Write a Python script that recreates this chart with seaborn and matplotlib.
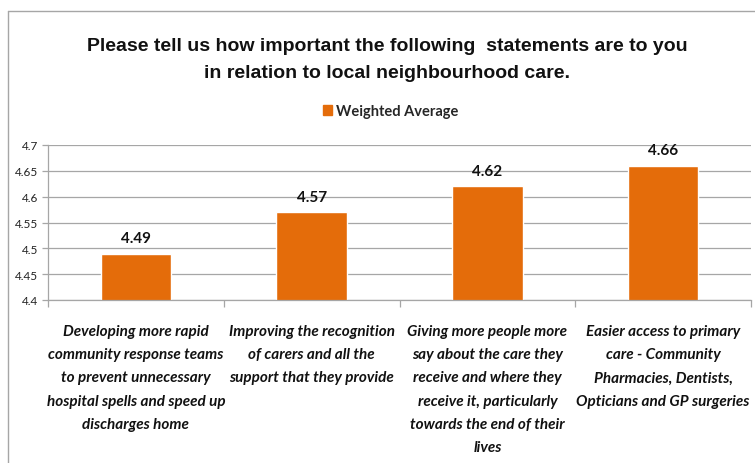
import matplotlib
matplotlib.use("Agg")
import matplotlib.pyplot as plt
from matplotlib.lines import Line2D
from matplotlib.patches import Patch
import seaborn as sns
import pandas as pd

# Survey statements and their weighted-average importance scores
categories = [
    "Developing more rapid\ncommunity response teams\nto prevent unnecessary\nhospital spells and speed up\ndischarges home",
    "Improving the recognition\nof carers and all the\nsupport that they provide",
    "Giving more people more\nsay about the care they\nreceive and where they\nreceive it, particularly\ntowards the end of their\nlives",
    "Easier access to primary\ncare - Community\nPharmacies, Dentists,\nOpticians and GP surgeries",
]
values = [4.49, 4.57, 4.62, 4.66]
value_labels = ["4.49", "4.57", "4.62", "4.66"]
series_name = "Weighted Average"
y_ticks = [4.4, 4.45, 4.5, 4.55, 4.6, 4.65, 4.7]
y_tick_labels = ["4.4", "4.45", "4.5", "4.55", "4.6", "4.65", "4.7"]
title = ("Please tell us how important the following  statements are to you\n"
         "in relation to local neighbourhood care.")

sns.set_theme(style="white")
plt.rcParams["font.family"] = ["Lato", "DejaVu Sans"]

BAR = "#E46C0A"
GRID = "#A6A6A6"

fig = plt.figure(figsize=(7.55, 4.64), dpi=100)
ax = fig.add_axes([48 / 755, 1 - 301 / 464, (751 - 48) / 755, (301 - 146) / 464])

df = pd.DataFrame({"statement": categories, "score": values})
sns.barplot(data=df, x="statement", y="score", color=BAR, width=0.4,
            saturation=1, ax=ax)

ax.set_ylim(4.4, 4.7)
ax.set_xlim(-0.5, len(categories) - 0.5)
ax.set_yticks(y_ticks)
ax.set_yticklabels(y_tick_labels, fontsize=8.5, color="#222222")
ax.set_xlabel("")
ax.set_ylabel("")

# horizontal gridlines
ax.yaxis.grid(True, color=GRID, linewidth=0.9)
ax.set_axisbelow(True)

for side in ["top", "right"]:
    ax.spines[side].set_visible(False)
for side in ["left", "bottom"]:
    ax.spines[side].set_color(GRID)
    ax.spines[side].set_linewidth(0.9)

ax.tick_params(axis="y", which="major", length=4, color=GRID, width=0.9,
               left=True, pad=3)

# category labels centred, separator ticks on category boundaries
ax.tick_params(axis="x", which="major", length=0, pad=17)
ax.set_xticks(range(len(categories)))
ax.set_xticklabels(categories, fontsize=11, fontweight="bold",
                   fontstyle="italic", color="#111111", linespacing=1.85,
                   va="top")
ax.set_xticks([i - 0.5 for i in range(len(categories) + 1)], minor=True)
ax.tick_params(axis="x", which="minor", length=5, color=GRID, width=0.9,
               bottom=True)

# value labels above bars
for i, (v, lab) in enumerate(zip(values, value_labels)):
    ax.annotate(lab, (i, v), xytext=(0, 6), textcoords="offset points",
                ha="center", va="bottom", fontsize=11, fontweight="bold",
                color="#111111")

# title
fig.text(387 / 755, 1 - 60 / 464, title, ha="center", va="center",
         fontsize=14, fontweight="bold", family=["Liberation Sans"],
         linespacing=1.75, color="#111111")

# legend
handles = [Patch(facecolor=BAR, edgecolor=BAR, label=series_name)]
fig.legend(handles=handles, loc="center", bbox_to_anchor=(391 / 755, 1 - 112 / 464),
           frameon=False, prop={"weight": "bold", "size": 10.5},
           handlelength=0.6, handleheight=0.7, handletextpad=0.3)

# chart area border
fig.add_artist(Line2D([8 / 755, 1], [1 - 12 / 464, 1 - 12 / 464],
                      transform=fig.transFigure, color=GRID, linewidth=1))
fig.add_artist(Line2D([8 / 755, 8 / 755], [0, 1 - 12 / 464],
                      transform=fig.transFigure, color=GRID, linewidth=1))

fig.savefig("out.png", dpi=100)
